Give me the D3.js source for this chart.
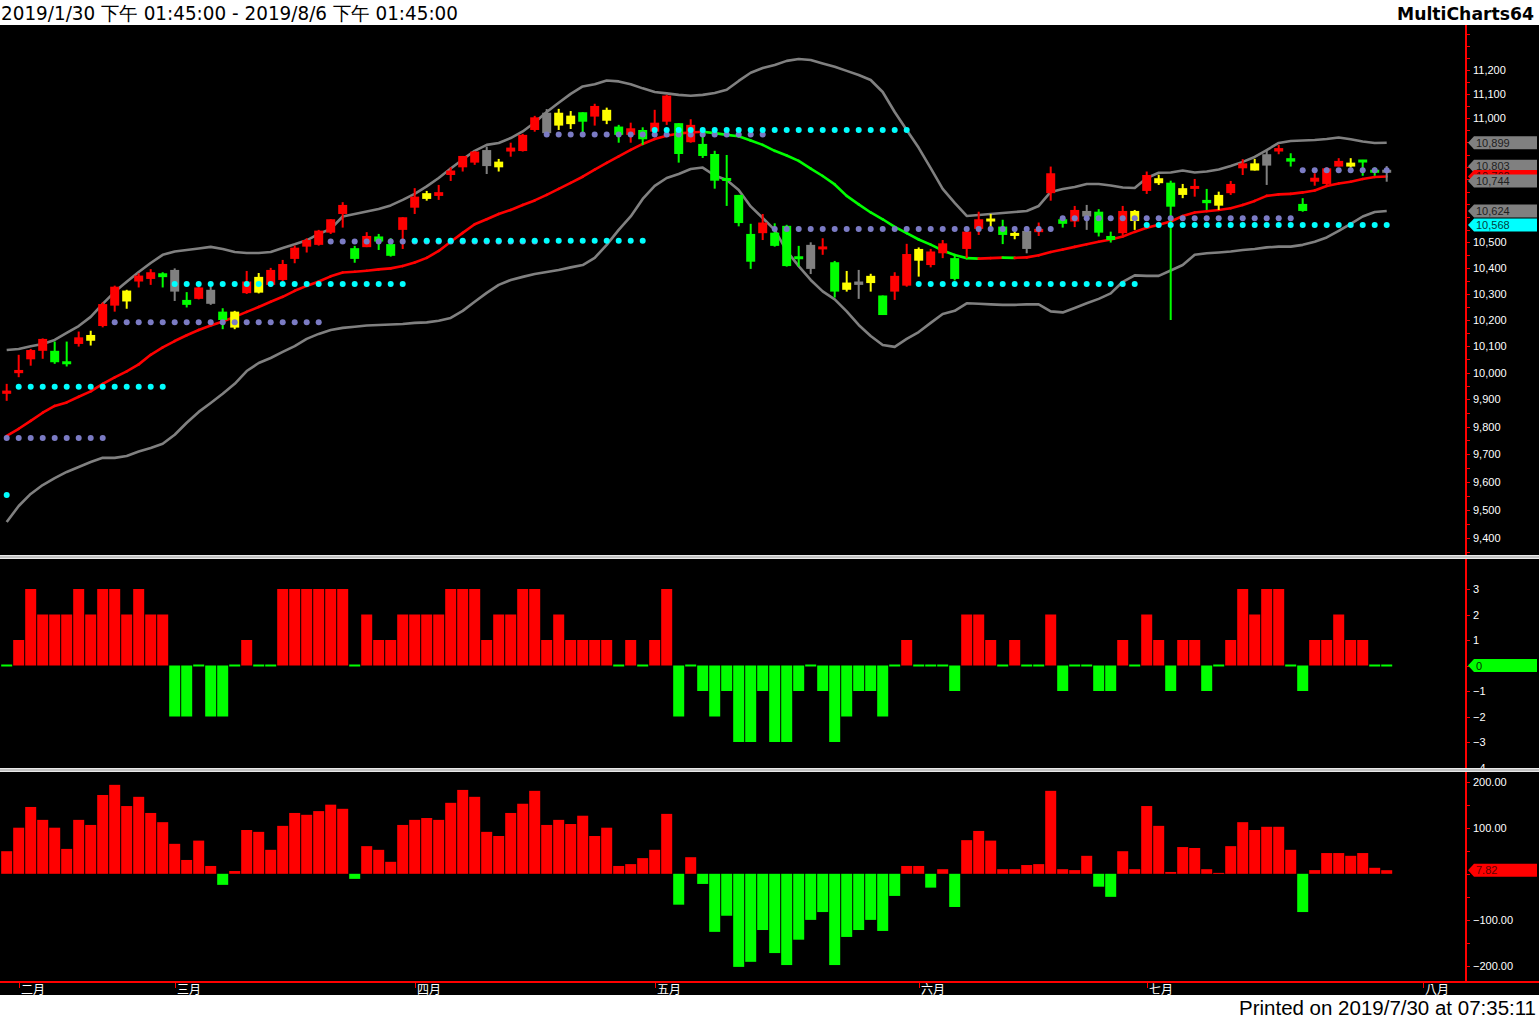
<!DOCTYPE html>
<html><head><meta charset="utf-8">
<script src="https://cdn.jsdelivr.net/npm/d3@7"></script>
<style>html,body{margin:0;padding:0;background:#fff;overflow:hidden}svg{display:block}</style>
</head><body>
<svg id="c" width="1539" height="1019"></svg>
<script>
// ---------- DATA (bar 0 = 2019/1/31, one bar per trading day) ----------
const openP = [9921,9998,10050,10082,10082,10041,10108,10120,10176,10254,
10270,10347,10357,10379,10392,10276,10280,10315,10231,10170,
10302,10304,10334,10353,10435,10483,10490,10538,10612,10477,
10481,10523,10493,10549,10637,10672,10684,10768,10799,10818,
10869,10799,10863,10865,10951,11022,10969,10975,11024,11006,
10989,10965,10931,10951,10944,10985,10979,10901,10894,10853,
10755,10688,10533,10536,10538,10565,10444,10490,10473,10422,
10315,10347,10341,10293,10308,10331,10428,10411,10457,10438,
10474,10553,10584,10562,10526,10545,10540,10695,10591,10582,
10624,10621,10525,10536,10584,10704,10735,10737,10688,10715,
10668,10645,10695,10795,10786,10852,10863,10836,10652,10741,
10732,10802,10802,10829,10788,10788];
const highP = [9958,10067,10089,10129,10117,10117,10155,10158,10266,10331,
10315,10379,10395,10383,10398,10306,10326,10327,10244,10234,
10388,10380,10400,10431,10487,10516,10549,10591,10659,10486,
10540,10533,10516,10599,10715,10704,10728,10799,10845,10865,
10883,10833,10899,10935,11009,11037,11038,11029,11024,11059,
11043,10972,10981,10962,11034,11096,10979,10995,10924,10866,
10849,10688,10573,10612,10575,10569,10486,10500,10516,10427,
10388,10392,10377,10293,10383,10494,10480,10474,10509,10447,
10542,10621,10612,10589,10549,10562,10578,10802,10602,10644,
10648,10631,10542,10644,10628,10782,10769,10745,10732,10752,
10712,10701,10744,10832,10833,10867,10890,10856,10675,10775,
10799,10836,10836,10829,10799,10804];
const lowP = [9895,9983,10026,10052,10033,10023,10098,10102,10171,10231,
10242,10324,10334,10324,10272,10247,10278,10257,10164,10164,
10299,10301,10326,10349,10418,10460,10487,10533,10558,10420,
10481,10470,10444,10474,10612,10665,10668,10744,10782,10809,
10772,10782,10842,10863,10944,10938,10951,10955,10938,10969,
10975,10899,10899,10890,10944,10972,10818,10899,10837,10713,
10644,10563,10396,10509,10483,10405,10405,10376,10451,10285,
10308,10280,10308,10218,10276,10327,10366,10402,10438,10351,
10438,10529,10560,10493,10512,10457,10525,10665,10558,10560,
10549,10523,10499,10529,10549,10692,10728,10199,10675,10681,
10628,10628,10688,10768,10786,10728,10852,10802,10621,10725,
10728,10802,10798,10765,10765,10741];
const closeP = [9933,10010,10085,10127,10039,10033,10133,10142,10260,10327,
10312,10370,10383,10364,10308,10257,10324,10261,10199,10231,
10347,10365,10392,10415,10479,10509,10546,10591,10648,10435,
10525,10503,10447,10599,10681,10695,10699,10786,10845,10863,
10804,10822,10879,10931,11003,10938,11022,11010,10985,11050,
11034,10931,10958,10913,10981,11093,10853,10972,10845,10745,
10745,10576,10424,10578,10486,10407,10435,10396,10483,10308,
10343,10334,10369,10218,10369,10454,10474,10464,10496,10357,
10542,10591,10592,10529,10536,10474,10553,10775,10573,10628,
10602,10538,10509,10624,10624,10768,10755,10641,10715,10721,
10655,10688,10732,10815,10815,10806,10877,10822,10624,10757,
10795,10825,10818,10820,10778,10778];
// candle state: r = red, g = green, y = yellow, k = gray
const barState = ["r","r","r","r","g","g","r","y","r","r",
"y","r","r","g","k","g","r","k","g","y",
"r","y","r","r","r","r","r","r","r","g",
"r","g","g","r","r","y","r","r","r","r",
"k","y","r","r","r","k","y","y","g","r",
"y","g","r","g","r","r","g","r","g","g",
"g","g","g","r","g","g","g","k","r","g",
"y","k","y","g","r","r","y","r","r","g",
"r","r","y","g","y","k","r","r","g","r",
"k","g","g","r","y","r","y","g","y","r",
"g","y","r","r","y","k","r","g","g","r",
"r","r","y","g","g","k"];
const bbUpper = [10085,10089,10099,10108,10123,10150,10176,10211,10261,10307,
10346,10384,10419,10451,10464,10470,10476,10482,10474,10462,
10458,10458,10462,10478,10492,10508,10533,10553,10602,10612,
10622,10632,10646,10668,10692,10722,10756,10794,10831,10866,
10890,10898,10918,10945,10982,11025,11063,11100,11131,11140,
11156,11152,11140,11123,11108,11102,11096,11092,11096,11104,
11117,11154,11188,11208,11221,11238,11246,11242,11227,11213,
11196,11179,11158,11108,11025,10951,10878,10796,10712,10656,
10604,10608,10612,10616,10620,10624,10644,10700,10712,10720,
10732,10732,10726,10718,10716,10756,10777,10778,10786,10778,
10782,10790,10804,10821,10841,10869,10898,10906,10908,10910,
10914,10920,10913,10904,10898,10899];
const bbLower = [9456,9513,9556,9588,9613,9635,9653,9671,9686,9686,
9693,9709,9722,9737,9770,9814,9854,9887,9921,9958,
10006,10036,10055,10078,10100,10127,10146,10161,10169,10173,
10178,10180,10182,10184,10188,10190,10196,10207,10234,10269,
10303,10334,10353,10365,10376,10384,10392,10402,10411,10439,
10490,10549,10602,10672,10724,10756,10772,10792,10798,10766,
10748,10708,10642,10596,10549,10466,10407,10353,10309,10278,
10232,10180,10138,10104,10097,10127,10153,10188,10222,10234,
10263,10261,10259,10257,10257,10259,10259,10232,10228,10245,
10263,10280,10301,10346,10371,10369,10369,10390,10411,10451,
10457,10460,10464,10470,10474,10480,10483,10483,10490,10502,
10519,10545,10573,10602,10620,10624];
const maLine = [9766,9792,9821,9851,9876,9889,9910,9930,9958,9982,
10005,10031,10067,10095,10119,10141,10161,10178,10193,10211,
10230,10249,10269,10288,10311,10330,10347,10367,10382,10385,
10389,10394,10398,10407,10421,10439,10466,10502,10537,10571,
10591,10612,10628,10648,10666,10688,10712,10736,10761,10790,
10817,10843,10870,10894,10914,10927,10937,10941,10944,10938,
10931,10925,10908,10890,10866,10847,10825,10794,10764,10730,
10684,10650,10618,10591,10561,10536,10511,10491,10468,10450,
10438,10436,10438,10440,10439,10441,10449,10462,10472,10482,
10492,10502,10511,10523,10541,10557,10569,10582,10604,10618,
10623,10628,10635,10648,10664,10684,10690,10692,10698,10706,
10724,10734,10741,10752,10760,10762];
// dotted level lines: [first bar, last bar, level]
const cyanLevels = [[0,0,9552],[1,13,9947],[14,33,10337],[34,53,10506],[54,75,10951],[76,94,10337],[95,115,10568]];
const purpleLevels = [[0,8,9758],[9,26,10190],[27,44,10503],[45,63,10933],[64,87,10552],[88,107,10595],[108,115,10787]];
// lower panels
const hist1 = [0,1,3,2,2,2,3,2,3,3,
2,3,2,2,-2,-2,0,-2,-2,0,
1,0,0,3,3,3,3,3,3,0,
2,1,1,2,2,2,2,3,3,3,
1,2,2,3,3,1,2,1,1,1,
1,0,1,0,1,3,-2,0,-1,-2,
-1,-3,-3,-1,-3,-3,-1,0,-1,-3,
-2,-1,-1,-2,0,1,0,0,0,-1,
2,2,1,0,1,0,0,2,-1,0,
0,-1,-1,1,0,2,1,-1,1,1,
-1,0,1,3,2,3,3,0,-1,1,
1,2,1,1,0,0];
const hist2 = [49,100,145,117,100,54,117,106,171,193,
147,167,132,112,65,30,72,17,-24,6,
95,91,52,104,132,128,136,150,141,-11,
60,52,26,106,117,121,117,154,182,167,
91,82,132,152,180,106,117,108,126,82,
100,17,21,34,52,130,-67,36,-22,-126,
-91,-202,-191,-122,-172,-198,-143,-100,-83,-198,
-137,-122,-100,-124,-48,17,17,-30,10,-72,
73,93,72,10,10,19,21,180,10,8,
39,-28,-50,49,10,147,104,4,58,56,
10,2,60,112,95,102,102,52,-83,8,
45,45,39,45,13,7.82];
// axis
const monthLabels = ["二月","三月","四月","五月","六月","七月","八月"];
const monthBar = [1,14,34,54,76,95,118];
const priceTicksMinor = d3.range(9350, 11351, 50);
const priceTickLabels = d3.range(9400, 11201, 100);
const hist1Ticks = [-4,-3,-2,-1,0,1,2,3];
const hist2TicksMinor = d3.range(-200, 201, 50);
const hist2TickLabels = [-200,-100,0,100,200];
const lastFlags = [
  {v:10899, t:"10,899", c:"#808080", tc:"#202020"},
  {v:10803, t:"10,803", c:"#808080", tc:"#202020"},
  {v:10762, t:"10,762", c:"#ff0000", tc:"#500000"},
  {v:10744, t:"10,744", c:"#808080", tc:"#202020"},
  {v:10624, t:"10,624", c:"#808080", tc:"#202020"},
  {v:10568, t:"10,568", c:"#00ffff", tc:"#004040"}];
const titleText = "2019/1/30 下午 01:45:00 - 2019/8/6 下午 01:45:00";
const brandText = "MultiCharts64";
const printedText = "Printed on 2019/7/30 at 07:35:11";

// ---------- DRAW ----------
const W = 1539, H = 1019, AX = 1466;
const svg = d3.select("#c");
svg.append("rect").attr("width", W).attr("height", H).attr("fill", "#fff");
svg.append("rect").attr("x", 0).attr("y", 25).attr("width", W).attr("height", 970).attr("fill", "#000");

const x = d3.scaleLinear().domain([-0.558, 121.608]).range([0, AX]);
const yP = d3.scaleLog().domain([9347, 11390]).range([553, 25]);
const y1 = d3.scaleLinear().domain([-4, 4]).range([767.5, 563.5]);
const y2 = d3.scaleLinear().domain([-230, 220]).range([979.8, 772.4]);

const defs = svg.append("defs");
function clip(id, x0, y0, w, h) {
  defs.append("clipPath").attr("id", id).append("rect").attr("x", x0).attr("y", y0).attr("width", w).attr("height", h);
}
clip("cm", 0, 25, AX, 529); clip("c1", 0, 559, AX, 209); clip("c2", 0, 772, AX, 209);

const gm = svg.append("g").attr("clip-path", "url(#cm)");
const idx = d3.range(openP.length);

// Bollinger bands
const bl = d3.line().x((d, i) => x(i)).y(d => yP(d));
[bbUpper, bbLower].forEach(arr => gm.append("path").attr("d", bl(arr)).attr("fill", "none")
  .attr("stroke", "#808080").attr("stroke-width", 2.6).attr("stroke-linejoin", "round"));

// MA (red rising, green falling)
for (let i = 1; i < maLine.length; i++) {
  gm.append("line").attr("x1", x(i - 1)).attr("y1", yP(maLine[i - 1])).attr("x2", x(i)).attr("y2", yP(maLine[i]))
    .attr("stroke", maLine[i] >= maLine[i - 1] ? "#ff0000" : "#00ff00").attr("stroke-width", 2.6).attr("stroke-linecap", "round");
}

// candles
const colMap = {r: "#ff0000", g: "#00ff00", y: "#ffff00", k: "#808080"};
const cg = gm.append("g");
idx.forEach(i => {
  const c = colMap[barState[i]];
  const cx = x(i);
  const yh = yP(highP[i]), yl = yP(lowP[i]);
  cg.append("rect").attr("x", cx - 1).attr("y", yh).attr("width", 2).attr("height", Math.max(1, yl - yh)).attr("fill", c);
  let yt = yP(Math.max(openP[i], closeP[i])), yb = yP(Math.min(openP[i], closeP[i]));
  if (yb - yt < 3) { const m = (yt + yb) / 2; yt = m - 1.5; yb = m + 1.5; }
  cg.append("rect").attr("x", cx - 4.5).attr("y", yt).attr("width", 9).attr("height", yb - yt).attr("fill", c);
});

// dotted levels
function dots(levels, color) {
  levels.forEach(([a, b, v]) => {
    d3.range(a, b + 1).forEach(i => gm.append("circle").attr("cx", x(i)).attr("cy", yP(v)).attr("r", 3).attr("fill", color));
  });
}
dots(purpleLevels, "#7b7bc4");
dots(cyanLevels, "#00ffff");

// panel 1 histogram
const g1 = svg.append("g").attr("clip-path", "url(#c1)");
idx.forEach(i => {
  const v = hist1[i];
  if (v === 0) {
    g1.append("rect").attr("x", x(i) - 5.5).attr("y", y1(0) - 1).attr("width", 11).attr("height", 2).attr("fill", "#00ff00");
  } else {
    const a = y1(Math.max(0, v)), b = y1(Math.min(0, v));
    g1.append("rect").attr("x", x(i) - 5.5).attr("y", a).attr("width", 11).attr("height", b - a).attr("fill", v > 0 ? "#ff0000" : "#00ff00");
  }
});
// panel 2 histogram
const g2 = svg.append("g").attr("clip-path", "url(#c2)");
idx.forEach(i => {
  const v = hist2[i];
  const a = y2(Math.max(0, v)), b = y2(Math.min(0, v));
  g2.append("rect").attr("x", x(i) - 5.5).attr("y", a).attr("width", 11).attr("height", Math.max(1, b - a)).attr("fill", v >= 0 ? "#ff0000" : "#00ff00");
});

// flag positions (axis labels hidden behind the last-value flags are not drawn)
const FH = 6.5;
const mainFlagY = lastFlags.map(f => yP(f.v));
const h1FlagY = y1(hist1[hist1.length - 1]);
const h2FlagY = y2(hist2[hist2.length - 1]);
const allFlagY = mainFlagY.concat([h1FlagY, h2FlagY]);

// axes
const ax = svg.append("g");
ax.append("line").attr("x1", AX).attr("x2", AX).attr("y1", 25).attr("y2", 982).attr("stroke", "#ff0000").attr("stroke-width", 2);
ax.append("line").attr("x1", 0).attr("x2", W).attr("y1", 982).attr("y2", 982).attr("stroke", "#ff0000").attr("stroke-width", 2);
const lblFont = "'Liberation Sans', Arial, sans-serif";
function yTicks(scale, minor, labels, fmt) {
  minor.forEach(v => ax.append("line").attr("x1", AX).attr("x2", AX + 4).attr("y1", Math.round(scale(v)) + 0.5).attr("y2", Math.round(scale(v)) + 0.5).attr("stroke", "#ff0000"));
  labels.forEach(v => {
    const yy = scale(v);
    if (allFlagY.some(fy => Math.abs(fy - yy) < 11)) return;
    ax.append("text").attr("x", AX + 7).attr("y", yy + 4).attr("fill", "#fff")
      .attr("font-family", lblFont).attr("font-size", 11).text(fmt(v));
  });
}
yTicks(yP, priceTicksMinor, priceTickLabels, d3.format(","));
yTicks(y1, hist1Ticks, hist1Ticks, d3.format("d"));
yTicks(y2, hist2TicksMinor, hist2TickLabels, d3.format(".2f"));

// month ticks
monthLabels.forEach((m, k) => {
  const tx = Math.round(x(monthBar[k]));
  ax.append("line").attr("x1", tx + 0.5).attr("x2", tx + 0.5).attr("y1", 982).attr("y2", 988).attr("stroke", "#ff0000");
  ax.append("text").attr("x", tx + 2).attr("y", 994).attr("fill", "#fff")
    .attr("font-family", "'Noto Sans CJK TC','Noto Sans CJK SC',sans-serif").attr("font-size", 12).text(m);
});

// separators
[555, 768].forEach(yy => {
  svg.append("rect").attr("x", 0).attr("y", yy).attr("width", W).attr("height", 4).attr("fill", "#e8e8e8");
  svg.append("rect").attr("x", 0).attr("y", yy + 1.5).attr("width", W).attr("height", 1).attr("fill", "#9a9a9a");
});

// flags (later flags are drawn over earlier ones; text is clipped to the visible part)
let flagN = 0;
function flag(yc, text, fill, tc, visTop, visBot) {
  svg.append("path").attr("d", `M${AX + 2},${yc} L${AX + 8},${yc - FH} L${W - 2},${yc - FH} L${W - 2},${yc + FH} L${AX + 8},${yc + FH} Z`).attr("fill", fill);
  const id = "fl" + (flagN++);
  clip(id, AX, visTop, W - AX, Math.max(0, visBot - visTop));
  svg.append("text").attr("clip-path", `url(#${id})`).attr("x", AX + 10).attr("y", yc + 4).attr("fill", tc)
    .attr("font-family", lblFont).attr("font-size", 11).text(text);
}
lastFlags.forEach((f, k) => {
  const yc = mainFlagY[k];
  let top = yc - FH, bot = yc + FH;
  mainFlagY.forEach((yj, j) => {
    if (j <= k || Math.abs(yj - yc) >= 2 * FH) return;
    if (yj > yc) bot = Math.min(bot, yj - FH); else top = Math.max(top, yj + FH);
  });
  flag(yc, f.t, f.c, f.tc, top, bot);
});
flag(h1FlagY, d3.format("d")(hist1[hist1.length - 1]), "#00ff00", "#003000", h1FlagY - FH, h1FlagY + FH);
flag(h2FlagY, d3.format(".2f")(hist2[hist2.length - 1]), "#ff0000", "#600000", h2FlagY - FH, h2FlagY + FH);

// header / footer
svg.append("text").attr("x", 1).attr("y", 20).attr("font-family", "'DejaVu Sans',Tahoma,sans-serif").attr("font-size", 19)
  .attr("textLength", 457).attr("lengthAdjust", "spacingAndGlyphs").attr("fill", "#000").text(titleText);
svg.append("text").attr("x", 1397).attr("y", 20).attr("font-family", "'DejaVu Sans',Tahoma,sans-serif").attr("font-size", 18)
  .attr("font-weight", "bold").attr("textLength", 137).attr("lengthAdjust", "spacingAndGlyphs").attr("fill", "#000").text(brandText);
svg.append("text").attr("x", 1239).attr("y", 1015).attr("font-family", "'Liberation Sans Narrow','Liberation Sans',sans-serif").attr("font-size", 20)
  .attr("textLength", 297).attr("lengthAdjust", "spacingAndGlyphs").attr("fill", "#000").text(printedText);
</script>
</body></html>
